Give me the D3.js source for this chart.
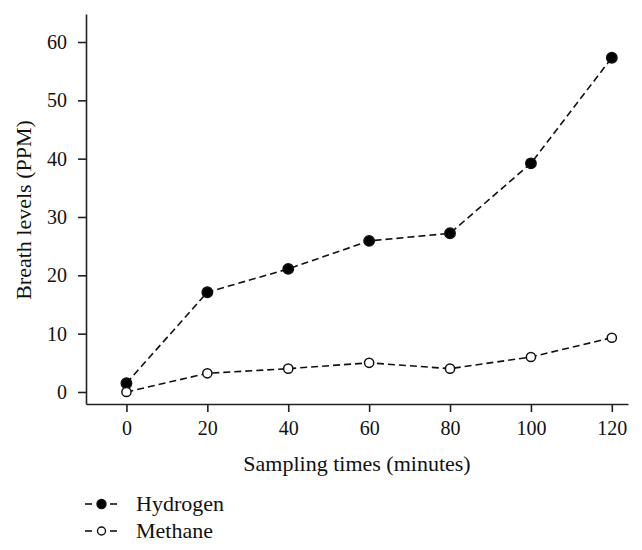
<!DOCTYPE html>
<html>
<head>
<meta charset="utf-8">
<script src="https://cdn.jsdelivr.net/npm/d3@7"></script>
<style>
  html, body { margin: 0; padding: 0; background: #fff; }
  svg { display: block; }
  text { font-family: "Liberation Serif", "DejaVu Serif", serif; fill: #111; }
</style>
</head>
<body>
<svg id="chart" width="642" height="550"></svg>
<script>
const times = [0, 20, 40, 60, 80, 100, 120];
const hydrogen = [1.5, 17.1, 21.1, 25.9, 27.2, 39.2, 57.3];
const methane = [0.0, 3.2, 4.0, 5.0, 4.0, 6.0, 9.3];
const xTicks = [0, 20, 40, 60, 80, 100, 120];
const yTicks = [0, 10, 20, 30, 40, 50, 60];
const seriesNames = ["Hydrogen", "Methane"];

const svg = d3.select("#chart");
const mLeft = 86, mRight = 628, mTop = 14, mBottom = 404;

const x = d3.scaleLinear().domain([-10, 124]).range([mLeft, mRight]);
const y = d3.scaleLinear().domain([-2.06, 64.8]).range([mBottom, mTop]);

// axes
const xAxis = d3.axisBottom(x).tickValues(xTicks).tickSize(8).tickSizeOuter(0).tickPadding(9);
const yAxis = d3.axisLeft(y).tickValues(yTicks).tickSize(8).tickSizeOuter(0).tickPadding(11);

const gx = svg.append("g").attr("transform", `translate(0,${mBottom})`).call(xAxis);
const gy = svg.append("g").attr("transform", `translate(${mLeft},0)`).call(yAxis);
[gx, gy].forEach(g => {
  g.select(".domain").attr("stroke", "#222").attr("stroke-width", 1.6);
  g.selectAll(".tick line").attr("stroke", "#222").attr("stroke-width", 1.6);
  g.selectAll(".tick text").attr("font-family", "Liberation Serif, DejaVu Serif, serif")
    .attr("font-size", 20).attr("fill", "#111");
});

// axis titles
svg.append("text").attr("x", (mLeft + mRight) / 2).attr("y", 471)
  .attr("text-anchor", "middle").attr("font-size", 22).text("Sampling times (minutes)");
svg.append("text").attr("transform", `translate(31,210) rotate(-90)`)
  .attr("text-anchor", "middle").attr("font-size", 22).text("Breath levels (PPM)");

// lines
const data = [
  { name: seriesNames[0], values: hydrogen, fill: "#000" },
  { name: seriesNames[1], values: methane, fill: "#fff" }
];
const line = d3.line().x((d, i) => x(times[i])).y(d => y(d));

data.forEach(s => {
  svg.append("path").datum(s.values).attr("d", line)
    .attr("fill", "none").attr("stroke", "#111").attr("stroke-width", 1.6)
    .attr("stroke-dasharray", "7,4");
});
data.forEach(s => {
  svg.append("g").selectAll("circle").data(s.values).join("circle")
    .attr("cx", (d, i) => x(times[i])).attr("cy", d => y(d))
    .attr("r", s.fill === "#000" ? 5.2 : 4.6)
    .attr("fill", s.fill).attr("stroke", "#111").attr("stroke-width", 1.5);
});

// legend
const legY = [504, 531];
data.forEach((s, i) => {
  const g = svg.append("g").attr("transform", `translate(0,${legY[i]})`);
  g.append("line").attr("x1", 85).attr("x2", 92).attr("y1", 0).attr("y2", 0)
    .attr("stroke", "#111").attr("stroke-width", 1.6);
  g.append("line").attr("x1", 110).attr("x2", 117).attr("y1", 0).attr("y2", 0)
    .attr("stroke", "#111").attr("stroke-width", 1.6);
  g.append("circle").attr("cx", 101.5).attr("cy", 0).attr("r", s.fill === "#000" ? 4.5 : 4)
    .attr("fill", s.fill).attr("stroke", "#111").attr("stroke-width", 1.4);
  g.append("text").attr("x", 136).attr("y", 7).attr("font-size", 22).text(s.name);
});
</script>
</body>
</html>
